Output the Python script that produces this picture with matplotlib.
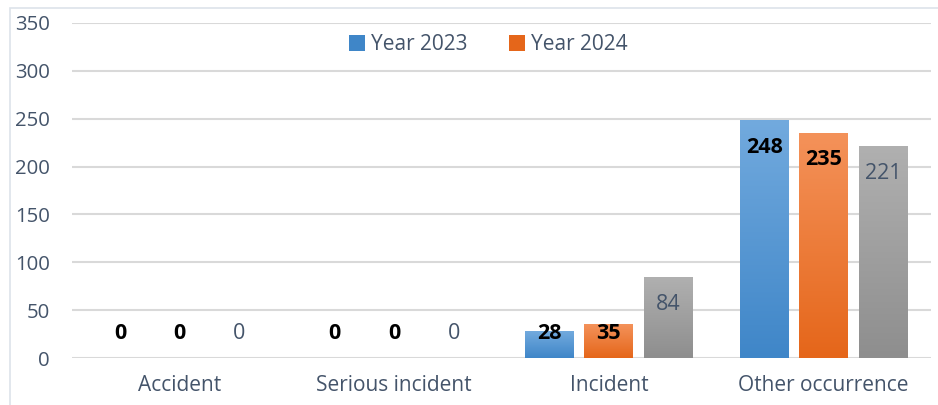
import numpy as np
import matplotlib
matplotlib.use("Agg")
import matplotlib.pyplot as plt
from matplotlib.patches import Rectangle
from matplotlib.colors import LinearSegmentedColormap

# Chart data
categories = ["Accident", "Serious incident", "Incident", "Other occurrence"]
values_2023 = [0, 0, 28, 248]
values_2024 = [0, 0, 35, 235]
values_other = [0, 0, 84, 221]
series_names = ["Year 2023", "Year 2024", None]
y_ticks = [0, 50, 100, 150, 200, 250, 300, 350]

text_color = "#44546a"
grid_color = "#d9d9d9"

# gradient top -> bottom for each series
gradients = [
    ("#72aade", "#3f86c8"),
    ("#f4925a", "#e5661a"),
    ("#b0b0b0", "#8e8e8e"),
]

plt.rcParams['font.family'] = ['Open Sans', 'DejaVu Sans']

fig = plt.figure(figsize=(9.38, 4.05), dpi=100)
fig.patch.set_facecolor("white")

# outer chart border (light)
fig.patches.append(Rectangle((10 / 938, -0.1), 1.2, 1.1 - 8 / 405,
                             transform=fig.transFigure, fill=False,
                             edgecolor="#dde3ea", linewidth=1.2))

ax = fig.add_axes([72 / 938, 1 - 358 / 405, (931 - 72) / 938, (358 - 23) / 405])

x = np.arange(len(categories))
bar_w = 0.228
step = 0.277
all_series = [values_2023, values_2024, values_other]

for i, vals in enumerate(all_series):
    offs = (i - 1) * step
    bars = ax.bar(x + offs, vals, width=bar_w, color=gradients[i][1],
                  label=series_names[i] if series_names[i] else "_nolegend_",
                  zorder=2)
    cmap = LinearSegmentedColormap.from_list("g%d" % i, [gradients[i][1], gradients[i][0]])
    grad = np.linspace(0, 1, 256).reshape(-1, 1)
    for b, v in zip(bars, vals):
        if v <= 0:
            continue
        x0 = b.get_x()
        ax.imshow(grad, cmap=cmap, origin="lower", aspect="auto",
                  extent=[x0, x0 + b.get_width(), 0, v], zorder=2.5)
    # data labels
    for xi, v in zip(x + offs, vals):
        ly = max(v - 28, 26)
        if i < 2:
            ax.text(xi, ly, str(v), ha="center", va="center", fontsize=15.5,
                    fontweight="bold", color="black", zorder=4)
        else:
            ax.text(xi, ly, str(v), ha="center", va="center", fontsize=15.5,
                    color=text_color, zorder=4)

ax.set_xlim(-0.5, len(categories) - 0.5)
ax.set_ylim(0, 350)

ax.set_yticks(y_ticks)
ax.set_yticklabels([str(t) for t in y_ticks])
ax.set_xticks(x)
ax.set_xticklabels(categories)
ax.tick_params(axis="y", length=0, pad=16, labelsize=14.7, labelcolor=text_color)
ax.tick_params(axis="x", length=0, pad=12, labelsize=15, labelcolor=text_color)

ax.grid(axis="y", color=grid_color, linewidth=1.5, zorder=0)
ax.set_axisbelow(True)
for s in ax.spines.values():
    s.set_visible(False)

leg = ax.legend(loc="center", bbox_to_anchor=(0.485, 0.935), ncol=2, frameon=False,
                fontsize=15, handlelength=0.75, handleheight=0.75,
                handletextpad=0.3, columnspacing=2.0)
for t in leg.get_texts():
    t.set_color(text_color)

fig.savefig("out.png", dpi=100)
